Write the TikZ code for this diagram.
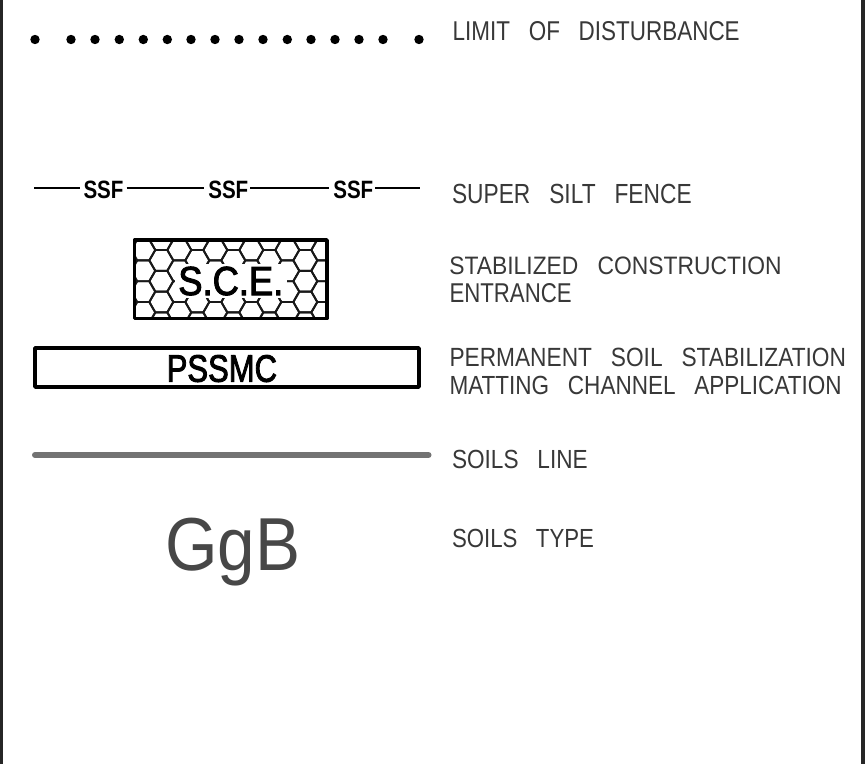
\documentclass[tikz,border=0pt]{standalone}
\usepackage{graphicx}
\usepackage{fontspec}
\setmainfont[WordSpace=3]{Liberation Sans}
\newfontfamily\symfont{Liberation Sans}
\newfontfamily\symheavy[FakeBold=2.6]{Liberation Sans}
\tikzset{
  every node/.style={inner sep=0pt,outer sep=0pt,anchor=base west},
  legendtext/.style={text=black!78},
  symboltext/.style={text=black,font=\symheavy},
  symbolbold/.style={text=black,font=\symfont\bfseries},
  dotmark/.style={circle,fill=black,minimum size=9.4pt,anchor=center},
  fence/.style={line width=2pt,black},
  boxline/.style={line width=3.8pt,black,line join=round},
  hexline/.style={line width=1.9pt,black!90,line join=round},
  soilline/.style={line width=6pt,black!55,line cap=round},
  sideband/.style={fill=black!85,draw=none}
}
\newcommand{\fitbox}[3]{\resizebox{#1pt}{#2pt}{#3}}
\begin{document}
\begin{tikzpicture}[x=1pt,y=-1pt]
\useasboundingbox (0,0) rectangle (865,764);
\fill[white] (0,0) rectangle (865,764);
\fill[sideband] (0,0) rectangle (3,764);
\fill[sideband] (861,0) rectangle (865,764);

% limit of disturbance
\foreach \i/\xx in {0/35,1/71,2/95,3/119.3,4/143.3,5/167.3,6/191,7/215,8/239,9/263,10/287.3,11/311,12/335,13/359,14/383,15/419}
  \node[dotmark] (d\i) at (\xx,39.5) {};
\node[legendtext] (t1) at (452.7,40) {\fitbox{287}{19}{LIMIT OF DISTURBANCE}};

% super silt fence
\coordinate (fL) at (34,188);
\coordinate (fR) at (420,188);
\node[symbolbold] (s1) at (83.5,198) {\fitbox{40}{17.5}{SSF}};
\node[symbolbold] (s2) at (208.3,198) {\fitbox{40}{17.5}{SSF}};
\node[symbolbold] (s3) at (333.3,198) {\fitbox{40}{17.5}{SSF}};
\draw[fence,shorten >=4pt] (fL) -- (s1.west |- fL);
\draw[fence,shorten <=3pt,shorten >=4pt] (s1.east |- fL) -- (s2.west |- fL);
\draw[fence,shorten <=2pt,shorten >=4pt] (s2.east |- fL) -- (s3.west |- fL);
\draw[fence,shorten <=2pt] (s3.east |- fL) -- (fR);
\node[legendtext] (t2) at (452,203.3) {\fitbox{239.7}{19.3}{SUPER SILT FENCE}};

% stabilized construction entrance
\begin{scope}
  \clip (134.5,240) rectangle (327,318.5);
  \foreach \i in {0,...,5} \foreach \j in {-1,...,4} {
    \draw[hexline] (143.3+36*\i-12,250+20.8*\j) -- ++(6,-10.4) -- ++(12,0) -- ++(6,10.4) -- ++(-6,10.4) -- ++(-12,0) -- cycle;
    \draw[hexline] (161.3+36*\i-12,260.4+20.8*\j) -- ++(6,-10.4) -- ++(12,0) -- ++(6,10.4) -- ++(-6,10.4) -- ++(-12,0) -- cycle;
  }
\end{scope}
\fill[white] (175,264) rectangle (287,298);
\node[symboltext] (sce) at (178.3,295) {\fitbox{105}{28.3}{S.C.E.}};
\draw[boxline] (134.5,240) rectangle (327,318.5);
\node[legendtext] (t3) at (449.3,274.3) {\fitbox{332.4}{17.6}{STABILIZED CONSTRUCTION}};
\node[legendtext] (t3b) at (449.5,302.3) {\fitbox{122.2}{19}{ENTRANCE}};

% permanent soil stabilization matting
\draw[boxline] (35,348) rectangle (419,387);
\node[symboltext] (pssmc) at (166.7,381.7) {\fitbox{110.3}{26.7}{PSSMC}};
\node[legendtext] (t4) at (449.5,366.7) {\fitbox{396.5}{18.4}{PERMANENT SOIL STABILIZATION}};
\node[legendtext] (t4b) at (449.5,394.3) {\fitbox{392.2}{18.3}{MATTING CHANNEL APPLICATION}};

% soils line
\coordinate (sA) at (35,455);
\coordinate (sB) at (428.5,455);
\draw[soilline] (sA) -- (sB);
\node[legendtext] (t5) at (452,468.3) {\fitbox{135.7}{18.3}{SOILS LINE}};

% soils type
\node[text=black!72,font=\symfont] (ggb) at (165,570.7) {\fitbox{135}{52.4}{GgB}};
\node[legendtext] (t6) at (452,547.3) {\fitbox{142}{18.3}{SOILS TYPE}};
\end{tikzpicture}
\end{document}
